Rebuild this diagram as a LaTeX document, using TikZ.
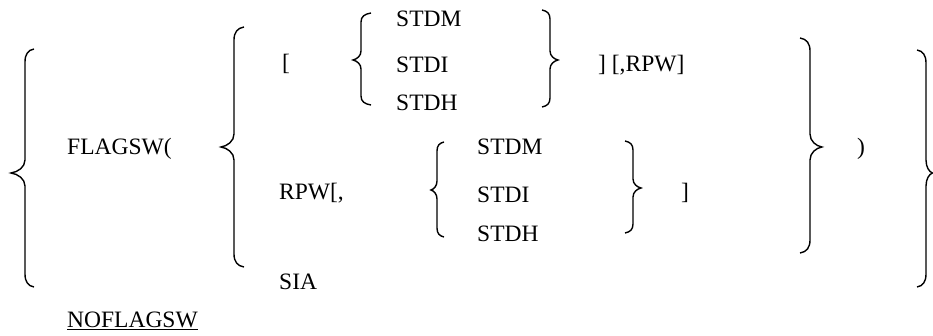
\documentclass[tikz,border=0pt]{standalone}
\usepackage{fontspec}
\setmainfont{Liberation Serif}
\newcommand\brc[7]{%
  \draw[bracestyle] (#1,#4) .. controls ({#2+(#1-#2)*0.35},#4+1) and (#2,#4+#7*0.4) .. (#2,#4+#7)
    -- (#2,#5-#7) .. controls (#2,#5-#7*0.45) and ({(#2+#3)/2},#5-1) .. (#3,#5)
    .. controls ({(#2+#3)/2},#5+1) and (#2,#5+#7*0.45) .. (#2,#5+#7)
    -- (#2,#6-#7) .. controls (#2,#6-#7*0.4) and ({#2+(#1-#2)*0.35},#6-1) .. (#1,#6);}
\begin{document}
\begin{tikzpicture}[x=1pt,y=-1pt,
  bracestyle/.style={line width=1.4pt,line join=miter,black},
  txt/.style={anchor=base west,inner sep=0pt,font=\fontsize{23.5}{28}\selectfont}]
\useasboundingbox (0,0) rectangle (933,336);
% braces
\brc{34}{25}{11}{49}{173}{287}{13}
\brc{244}{234}{221}{27}{147}{267}{13}
\brc{371}{361}{353}{13}{60}{105}{9}
\brc{542}{550}{558}{10}{60}{107}{9}
\brc{444}{437}{431}{142}{190}{237}{9}
\brc{625}{633}{641}{141}{188}{233}{9}
\brc{800}{810}{822}{38}{147}{253}{13}
\brc{917}{926}{932.5}{50}{173}{287}{13}
% texts
\node[txt] (flagsw) at (67,155) {FLAGSW(};
\node[txt] (lbr) at (282,71) {[};
\node[txt] (stdm1) at (396,27) {STDM};
\node[txt] (stdi1) at (396,73) {STDI};
\node[txt] (stdh1) at (396,111) {STDH};
\node[txt] (rbrpw) at (598,72) {] [,RPW]};
\node[txt] (rpw) at (279,200) {RPW[,};
\node[txt] (stdm2) at (477,155) {STDM};
\node[txt] (stdi2) at (477,203) {STDI};
\node[txt] (stdh2) at (477,242) {STDH};
\node[txt] (rbr2) at (681,200) {]};
\node[txt] (rpar) at (857,155) {)};
\node[txt] (sia) at (279,289) {SIA};
\node[txt] (noflag) at (67,327) {\underline{NOFLAGSW}};
\end{tikzpicture}
\end{document}
